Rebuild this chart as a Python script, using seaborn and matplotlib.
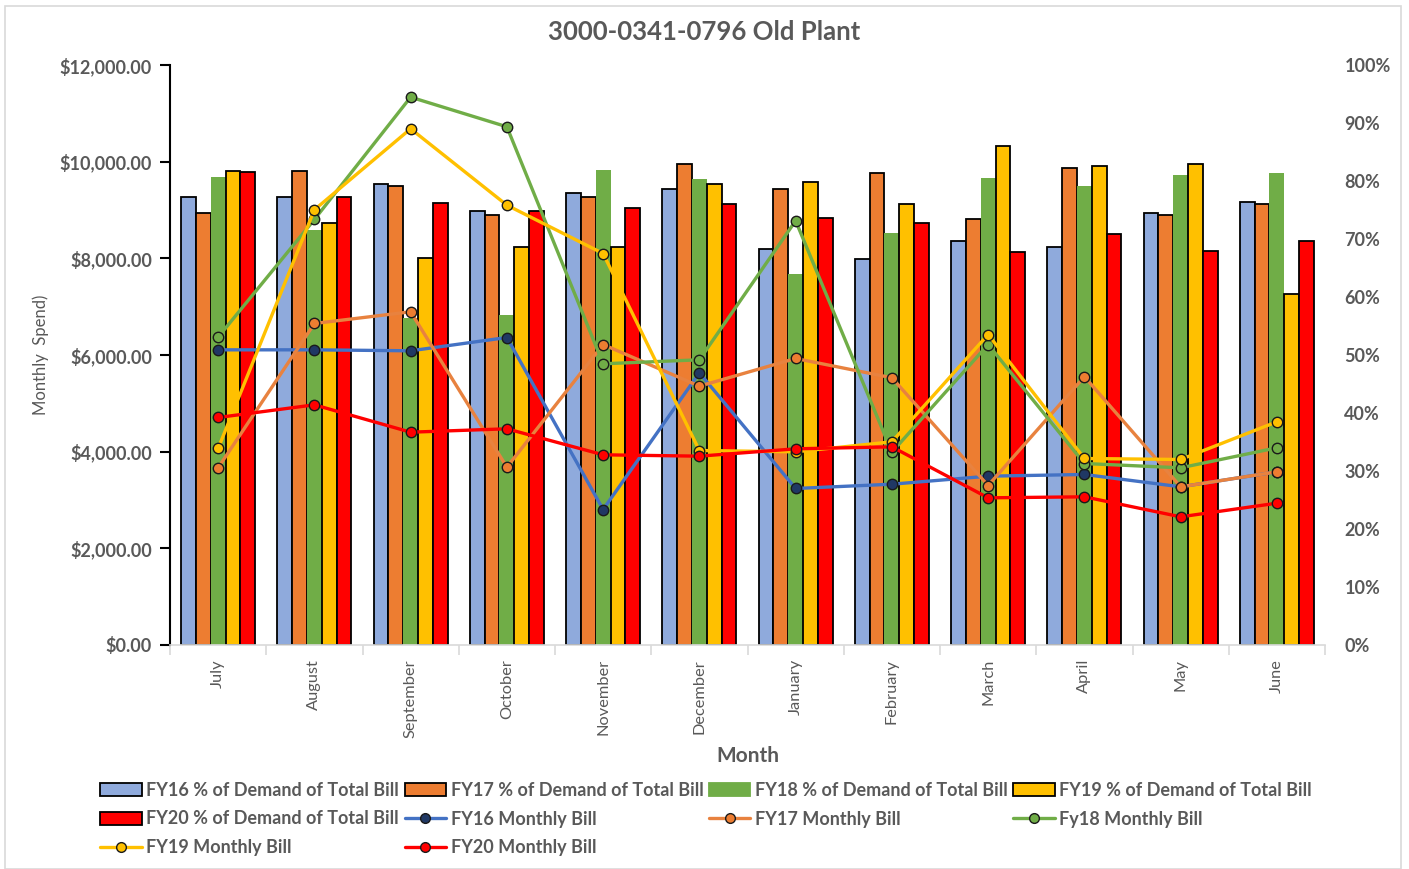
import matplotlib
matplotlib.use("Agg")
import matplotlib.pyplot as plt
import seaborn as sns
import pandas as pd
import numpy as np
from matplotlib.patches import Patch, Rectangle
from matplotlib.lines import Line2D
from matplotlib.ticker import FuncFormatter, MultipleLocator

months = ["July", "August", "September", "October", "November", "December",
          "January", "February", "March", "April", "May", "June"]

# % of demand of total bill (right axis)
fy16_pct = [77.3, 77.3, 79.4, 74.9, 78.0, 78.6, 68.2, 66.5, 69.7, 68.7, 74.4, 76.4]
fy17_pct = [74.4, 81.7, 79.2, 74.1, 77.3, 83.0, 78.7, 81.4, 73.4, 82.2, 74.1, 76.0]
fy18_pct = [80.7, 71.6, 56.3, 56.9, 81.9, 80.4, 63.9, 71.0, 80.5, 79.2, 81.0, 81.4]
fy19_pct = [81.7, 72.7, 66.8, 68.6, 68.6, 79.4, 79.8, 76.0, 86.1, 82.6, 83.0, 60.6]
fy20_pct = [81.6, 77.2, 76.2, 74.9, 75.4, 76.0, 73.6, 72.8, 67.8, 70.8, 68.0, 69.7]

# Monthly bill (left axis, $)
fy16_bill = [6107, 6107, 6087, 6362, 2803, 5632, 3238, 3327, 3493, 3528, 3273, 3583]
fy17_bill = [3666, 6652, 6894, 3679, 6217, 5355, 5928, 5529, 3300, 5552, 3273, 3583]
fy18_bill = [6369, 8804, 11335, 10722, 5818, 5901, 8777, 3990, 6217, 3755, 3666, 4080]
fy19_bill = [4066, 9004, 10681, 9100, 8100, 4024, 3997, 4204, 6424, 3859, 3838, 4618]
fy20_bill = [4707, 4969, 4403, 4473, 3935, 3907, 4059, 4100, 3045, 3066, 2652, 2934]

bar_names = ["FY16 % of Demand of Total Bill", "FY17 % of Demand of Total Bill",
             "FY18 % of Demand of Total Bill", "FY19 % of Demand of Total Bill",
             "FY20 % of Demand of Total Bill"]
line_names = ["FY16 Monthly Bill", "FY17 Monthly Bill", "Fy18 Monthly Bill",
              "FY19 Monthly Bill", "FY20 Monthly Bill"]

bar_colors = ["#8FAADC", "#ED7D31", "#70AD47", "#FFC000", "#FF0000"]
bar_edges = ["black", "black", "none", "black", "black"]
line_colors = ["#4472C4", "#E8823F", "#70AD47", "#FFC000", "#FF0000"]
marker_faces = ["#203864", "#ED7D31", "#70AD47", "#FFC000", "#FF0000"]

sns.set_theme(style="white")
plt.rcParams["font.family"] = ["Lato", "DejaVu Sans"]
TXT = "#595959"

bars_df = pd.DataFrame({
    "Month": np.tile(months, 5),
    "Series": np.repeat(bar_names, 12),
    "Pct": np.concatenate([fy16_pct, fy17_pct, fy18_pct, fy19_pct, fy20_pct]),
})
lines_df = pd.DataFrame({
    "pos": np.tile(np.arange(12), 5),
    "Series": np.repeat(line_names, 12),
    "Bill": np.concatenate([fy16_bill, fy17_bill, fy18_bill, fy19_bill, fy20_bill]),
})

fig = plt.figure(figsize=(14.09, 8.69), dpi=100)
ax = fig.add_axes([170/1409, 1 - 645/869, (1325-170)/1409, (645-65)/869])
ax2 = ax.twinx()

# Bars on the secondary (percentage) axis
sns.barplot(data=bars_df, x="Month", y="Pct", hue="Series", order=months,
            hue_order=bar_names, palette=bar_colors, width=0.77,
            ax=ax2, legend=False, saturation=1)
for i, cont in enumerate(ax2.containers):
    for p in cont:
        if bar_edges[i] == "none":
            p.set_edgecolor("none")
            p.set_linewidth(0)
        else:
            p.set_edgecolor("black")
            p.set_linewidth(1.3)

# Lines on the primary ($) axis
for i, name in enumerate(line_names):
    sub = lines_df[lines_df["Series"] == name]
    sns.lineplot(data=sub, x="pos", y="Bill", ax=ax, color=line_colors[i],
                 linewidth=2.4, marker="o", markersize=7.5,
                 markerfacecolor=marker_faces[i], markeredgecolor="#1a1a1a",
                 markeredgewidth=1.0, legend=False, zorder=3 + i)

ax.set_zorder(ax2.get_zorder() + 1)
ax.patch.set_visible(False)

ax.set_xlim(-0.5, 11.5)
ax2.set_xlim(-0.5, 11.5)
ax.set_ylim(0, 12000)
ax2.set_ylim(0, 100)

ax.yaxis.set_major_locator(MultipleLocator(2000))
ax.yaxis.set_major_formatter(FuncFormatter(lambda v, p: f"${v:,.2f}"))
ax2.yaxis.set_major_locator(MultipleLocator(10))
ax2.yaxis.set_major_formatter(FuncFormatter(lambda v, p: f"{v:.0f}%"))

for s in ["top", "right"]:
    ax.spines[s].set_visible(False)
for s in ["top", "right", "left", "bottom"]:
    ax2.spines[s].set_visible(False)
ax.spines["left"].set_color("black")
ax.spines["left"].set_linewidth(1.5)
ax.spines["bottom"].set_color("#D9D9D9")
ax.spines["bottom"].set_linewidth(1.2)

ax.tick_params(axis="y", which="major", left=True, length=7, width=1.5,
               color="black", labelsize=13, labelcolor=TXT, pad=6)
for lbl in ax.get_yticklabels():
    lbl.set_fontweight("bold")
ax2.tick_params(axis="y", right=False, length=0, labelsize=13, labelcolor=TXT, pad=14)
for lbl in ax2.get_yticklabels():
    lbl.set_fontweight("bold")
ax2.set_ylabel("")

# x axis: category labels on ax, boundary ticks as minor ticks
ax2.tick_params(axis="x", bottom=False, labelbottom=False)
ax2.set_xlabel("")
ax.set_xticks(np.arange(12))
ax.set_xticklabels(months, rotation=90, fontsize=11.8, color=TXT)
ax.set_xticks(np.arange(-0.5, 12, 1), minor=True)
ax.tick_params(axis="x", which="major", bottom=False, length=0, pad=10)
ax.tick_params(axis="x", which="minor", bottom=True, length=7, width=1.2,
               color="#D9D9D9")
ax.set_xlabel("Month", fontsize=15, fontweight="bold", color=TXT, labelpad=6)
ax.set_ylabel("Monthly  Spend)", fontsize=12, color=TXT)
ax.yaxis.set_label_coords(-0.105, 0.5)

fig.text(0.5, 1 - 32/869, "3000-0341-0796 Old Plant", ha="center", va="center",
         fontsize=18.5, fontweight="bold", color=TXT)

# Legend (row-major ordering in a 4-column grid)
bar_handles = [Patch(facecolor=bar_colors[i],
                     edgecolor=("black" if bar_edges[i] != "none" else bar_colors[i]),
                     linewidth=1.3) for i in range(5)]
line_handles = [Line2D([0], [0], color=line_colors[i], lw=2.4, marker="o",
                       markersize=7, markerfacecolor=marker_faces[i],
                       markeredgecolor="#1a1a1a", markeredgewidth=1.0)
                for i in range(5)]
all_h = bar_handles + line_handles
all_l = bar_names + line_names
row_major = [[0, 1, 2, 3], [4, 5, 6, 7], [8, 9]]
ncol = 4
order = []
for c in range(ncol):
    for r in row_major:
        if c < len(r):
            order.append(r[c])
leg = fig.legend([all_h[i] for i in order], [all_l[i] for i in order],
                 ncol=ncol, loc="center", bbox_to_anchor=(706/1409, 1 - 819/869),
                 frameon=False, fontsize=13, handlelength=2.3,
                 handletextpad=0.25, columnspacing=0.3, labelspacing=0.65)
for t in leg.get_texts():
    t.set_color(TXT)
    t.set_fontweight("bold")

# Chart area border
fig.patches.append(Rectangle((5/1409, 0.0), 1396/1409, 1 - 6/869,
                             transform=fig.transFigure, fill=False,
                             edgecolor="#D9D9D9", linewidth=1.2))

fig.savefig("out.png", dpi=100, facecolor="white")
